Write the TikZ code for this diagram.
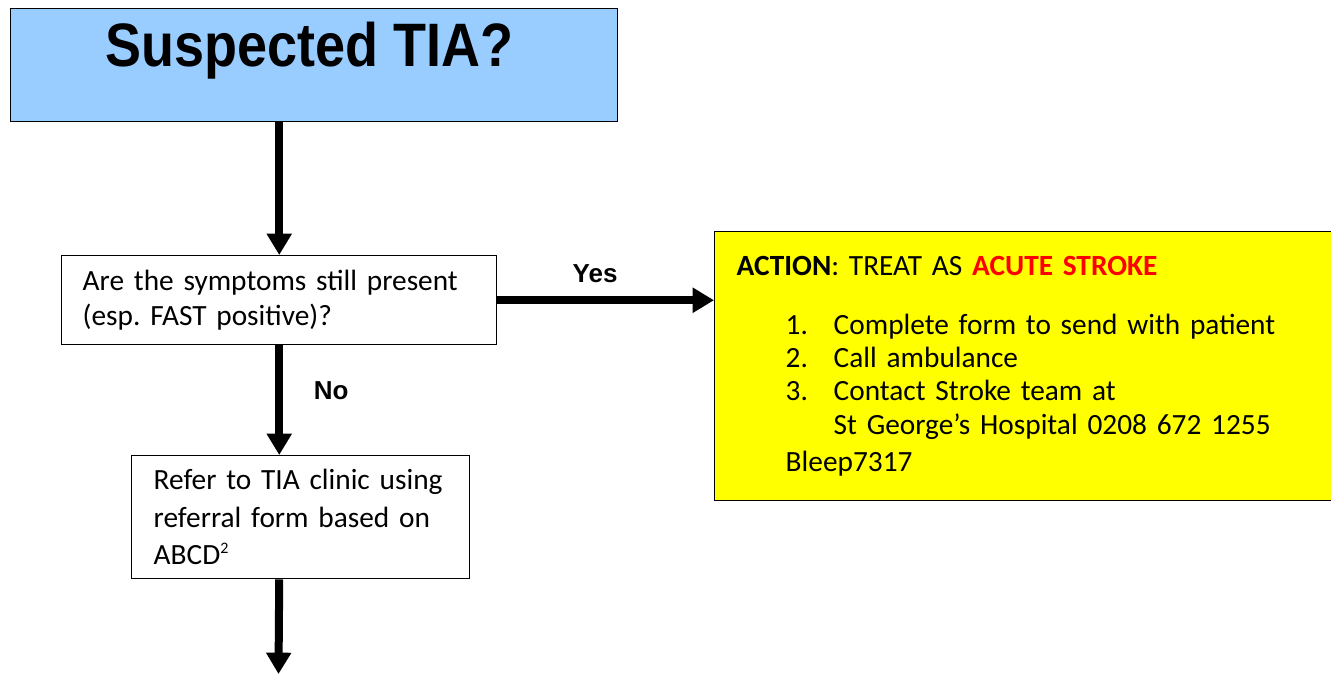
\documentclass[tikz,border=0pt]{standalone}
\usepackage{fontspec}
\setmainfont{Carlito}
\newfontfamily\arialfont{Liberation Sans}
\newfontfamily\titlefont[FakeStretch=0.88]{Liberation Sans}
\usetikzlibrary{positioning,arrows.meta}
\definecolor{tiablue}{HTML}{99CCFF}
\definecolor{actyellow}{HTML}{FFFF00}
\frenchspacing

\tikzset{
  frame/.style={rectangle,draw,line width=1.1pt,anchor=north west,inner ysep=0pt},
  box/.style={frame,align=left,font=\fontsize{22}{26.5}\selectfont},
  flow/.style={line width=6pt,-{Triangle[length=16pt,width=18pt]}},
  answer/.style={inner sep=0pt,font=\arialfont\bfseries\fontsize{19.5}{22}\selectfont}
}

\begin{document}
\begin{tikzpicture}[x=0.75pt,y=-0.75pt]
  \useasboundingbox (0,0) rectangle (1331,674);
  \node[frame,fill=tiablue,minimum width=455.25pt,text height=43pt,text depth=41.75pt,inner xsep=0pt,font=\titlefont\bfseries\fontsize{46}{50}\selectfont] (title) at (10,8) {Suspected TIA?\kern7.5pt};
  \node[box,minimum width=326.25pt,minimum height=66.75pt,inner xsep=15.75pt,text width=294.75pt] (symptoms) at (61,255) {Are the symptoms still present\\(esp. FAST positive)?};
  \node[box,fill=actyellow,minimum width=473.25pt,minimum height=201.75pt,inner xsep=16.5pt,text width=440.25pt,font=\fontsize{22}{25}\selectfont] (action) at (714,231) {\textbf{ACTION}: TREAT AS \textcolor{red}{\textbf{ACUTE STROKE}}\\[19pt]
    \hspace*{36.75pt}\makebox[36pt][l]{1.}Complete form to send with patient\\
    \hspace*{36.75pt}\makebox[36pt][l]{2.}Call ambulance\\
    \hspace*{36.75pt}\makebox[36pt][l]{3.}Contact Stroke team at\\
    \hspace*{72.75pt}St George’s Hospital 0208 672 1255\\[3pt]
    \hspace*{36.75pt}Bleep7317};
  \node[box,minimum width=253.5pt,minimum height=92.25pt,inner xsep=16.5pt,text width=220.5pt,font=\fontsize{22}{28}\selectfont] (refer) at (131,455) {Refer to TIA clinic using\\referral form based on\\ABCD\raisebox{8pt}{\fontsize{12}{12}\selectfont 2}};
  \coordinate (stop) at (278.5,674);

  \draw[flow] (symptoms.north |- title.south) -- (symptoms.north);
  \draw[flow] (symptoms.east) -- node[answer,above=9.75pt,xshift=-8pt] {Yes} (action.west |- symptoms.east);
  \draw[flow] (symptoms.south) -- node[answer,right=23pt,yshift=7pt] {No} (symptoms.south |- refer.north);
  \draw[flow] (symptoms.south |- refer.south) -- (stop);
\end{tikzpicture}
\end{document}
